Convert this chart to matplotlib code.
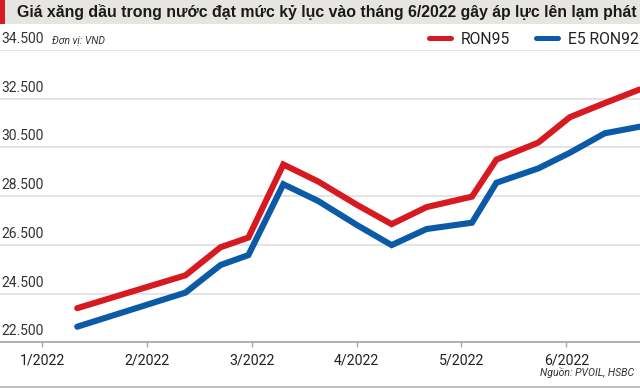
import matplotlib
matplotlib.use("Agg")
import matplotlib.pyplot as plt
from matplotlib.patches import Rectangle
from matplotlib.lines import Line2D
import datetime as dt

# ---- data ----
dates = ["2022-01-11", "2022-02-11", "2022-02-21", "2022-03-01", "2022-03-11",
         "2022-03-21", "2022-04-01", "2022-04-11", "2022-04-21", "2022-05-04",
         "2022-05-11", "2022-05-23", "2022-06-01", "2022-06-11", "2022-06-21"]
ron95 = [23900, 25250, 26400, 26800, 29800, 29100, 28150, 27350, 28050, 28480,
         30000, 30700, 31740, 32320, 32880]
e5_ron92 = [23140, 24540, 25670, 26080, 28990, 28300, 27320, 26490, 27150, 27410,
            29050, 29640, 30280, 31080, 31350]
x_tick_days = [0, 30, 60, 90, 120, 150]
x_tick_labels = ["1/2022", "2/2022", "3/2022", "4/2022", "5/2022", "6/2022"]
y_ticks = [22500, 24500, 26500, 28500, 30500, 32500, 34500]
title = "Giá xăng dầu trong nước đạt mức kỷ lục vào tháng 6/2022 gây áp lực lên lạm phát"
unit_note = "Đơn vị: VND"
source = "Nguồn: PVOIL, HSBC"
series_names = ["RON95", "E5 RON92"]

start = dt.date(2022, 1, 1)
days = [(dt.date.fromisoformat(d) - start).days for d in dates]

plt.rcParams["font.family"] = ["Roboto", "DejaVu Sans"]

RED = "#d71a21"
BLUE = "#0b5aa8"
W, H = 640, 388

fig = plt.figure(figsize=(6.4, 3.88), dpi=100)
fig.patch.set_facecolor("white")

# title bar
fig.patches.append(Rectangle((0, 1 - 24 / H), 1, 24 / H, transform=fig.transFigure,
                             facecolor="#e7e5e2", edgecolor="none", zorder=0))
fig.patches.append(Rectangle((0, 1 - 24 / H), 5 / W, 24 / H, transform=fig.transFigure,
                             facecolor=RED, edgecolor="none", zorder=1))
fig.text(17 / W, 1 - 12.5 / H, title, ha="left", va="center", fontsize=11.4,
         fontweight="bold", color="#1a1a1a", family=["Liberation Sans", "Roboto", "DejaVu Sans"])

ax_top, ax_bot = 50, 342.3
ax = fig.add_axes([0, 1 - ax_bot / H, 1, (ax_bot - ax_top) / H])
ax.set_facecolor("none")

ax.plot(days, ron95, color=RED, lw=4.4, solid_capstyle="round", solid_joinstyle="miter", zorder=3)
ax.plot(days, e5_ron92, color=BLUE, lw=4.4, solid_capstyle="round", solid_joinstyle="miter", zorder=3)

ax.set_xlim(-12.1, 171.1)
ax.set_ylim(y_ticks[0], y_ticks[-1])

ax.set_yticks(y_ticks)
ax.yaxis.grid(True, color="#dcdcdc", lw=1.1)
ax.tick_params(axis="y", length=0, labelleft=False)
for v in y_ticks:
    ax.annotate(f"{v:,}".replace(",", "."), xy=(0, v), xycoords=("axes fraction", "data"),
                xytext=(1, 4), textcoords="offset pixels", ha="left", va="bottom",
                fontsize=10, color="#333333")

ax.set_xticks(x_tick_days)
ax.set_xticklabels(x_tick_labels)
ax.tick_params(axis="x", length=3.4, width=1, color="#aaaaaa", pad=5,
               labelsize=10.2, labelcolor="#222222")

for s in ["top", "left", "right"]:
    ax.spines[s].set_visible(False)
ax.spines["bottom"].set_color("#a5a5a5")
ax.spines["bottom"].set_linewidth(1.2)

# unit note
fig.text(52 / W, 1 - 40 / H, unit_note, ha="left", va="center", fontsize=7.5,
         style="italic", color="#333333")

# legend
leg_fs = 11.3
px = leg_fs * 100 / 72
handles = [Line2D([], [], color=RED, lw=3.6, solid_capstyle="round"),
           Line2D([], [], color=BLUE, lw=3.6, solid_capstyle="round")]
fig.legend(handles, series_names, loc="center right", bbox_to_anchor=(639 / W, 1 - 39 / H),
           ncol=2, frameon=False, fontsize=leg_fs, handlelength=22 / px, handletextpad=10 / px,
           columnspacing=26 / px, borderpad=0, borderaxespad=0, labelcolor="#222222")

# source
fig.text(634 / W, 1 - 373 / H, source, ha="right", va="center", fontsize=7.6,
         style="italic", color="#333333")

# bottom rule
fig.add_artist(Line2D([0, 1], [1 - 386.5 / H] * 2, transform=fig.transFigure,
                      color="#b0b0b0", lw=1.2))

fig.savefig("out.png", dpi=100)
